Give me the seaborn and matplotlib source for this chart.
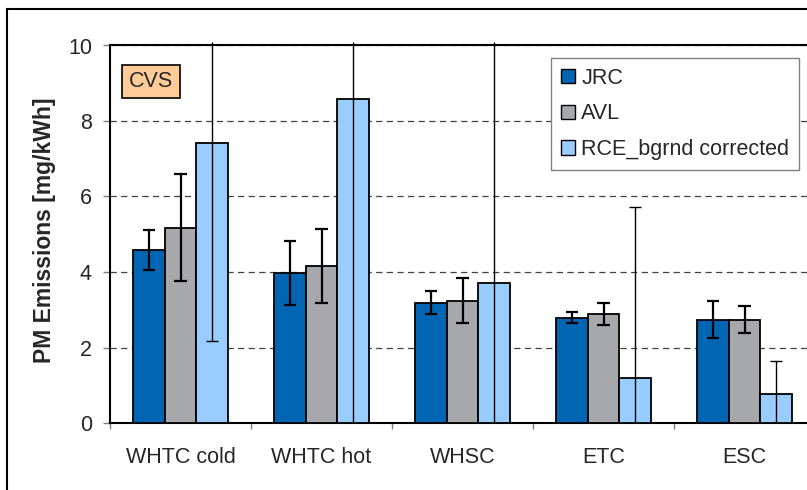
import numpy as np
import pandas as pd
import matplotlib
matplotlib.use("Agg")
import matplotlib.pyplot as plt
from matplotlib.patches import Rectangle, Patch
import seaborn as sns

# Test cycles and measuring labs
cycles = ["WHTC cold", "WHTC hot", "WHSC", "ETC", "ESC"]
labs = ["JRC", "AVL", "RCE_bgrnd corrected"]

# Mean PM emissions [mg/kWh]
jrc = [4.57, 3.98, 3.19, 2.79, 2.74]
avl = [5.17, 4.17, 3.24, 2.89, 2.74]
rce = [7.41, 8.59, 3.70, 1.19, 0.77]

# Error bar half-widths [mg/kWh]
jrc_err = [0.53, 0.85, 0.30, 0.14, 0.48]
avl_err = [1.42, 0.98, 0.59, 0.30, 0.35]
rce_err = [5.25, 8.80, 6.40, 4.53, 0.88]

y_ticks = [0, 2, 4, 6, 8, 10]
colors = ["#0066B3", "#A7A8AC", "#99CCFF"]

sns.set_theme(style="white")
plt.rcParams["font.family"] = ["Liberation Sans", "DejaVu Sans"]

df = pd.DataFrame({
    "cycle": cycles * 3,
    "lab": np.repeat(labs, len(cycles)),
    "value": jrc + avl + rce,
})

W, H = 807, 490
fig = plt.figure(figsize=(W / 100, H / 100), dpi=100)
ax = fig.add_axes([110 / W, 1 - 423 / H, 705 / W, (423 - 45.5) / H])

sns.barplot(data=df, x="cycle", y="value", hue="lab", order=cycles,
            hue_order=labs, palette=colors, width=0.67, saturation=1,
            edgecolor="black", linewidth=1.3, errorbar=None, legend=False,
            ax=ax, zorder=3)

ymax = 10
ax.set_ylim(0, ymax)
ax.set_xlim(-0.5, len(cycles) - 0.5)

# Error bars, clipped at the plot frame like the spreadsheet original
cap = 0.045
for cont, errs, lw in zip(ax.containers, [jrc_err, avl_err, rce_err],
                          [1.6, 1.6, 1.0]):
    for bar, e in zip(cont, errs):
        x = bar.get_x() + bar.get_width() / 2
        v = bar.get_height()
        lo, hi = v - e, v + e
        ax.vlines(x, max(lo, 0), min(hi, ymax + 0.08), color="black",
                  lw=lw, clip_on=False, zorder=5)
        if lo > 0:
            ax.hlines(lo, x - cap, x + cap, color="black", lw=lw, zorder=5)
        if hi < ymax:
            ax.hlines(hi, x - cap, x + cap, color="black", lw=lw, zorder=5)

# Axes styling
ax.set_yticks(y_ticks)
ax.set_yticklabels([str(t) for t in y_ticks])
ax.tick_params(axis="y", length=5, width=1, color="#808080", pad=8,
               labelsize=15.5, left=True)
ax.set_xticks(np.arange(-0.5, len(cycles), 1.0))
ax.set_xticklabels([])
ax.set_xticks(np.arange(len(cycles)), labels=cycles, minor=True)
ax.tick_params(axis="x", which="major", length=4, width=1, color="#808080",
               bottom=True)
ax.tick_params(axis="x", which="minor", length=0, pad=17, labelsize=15.5)
ax.set_xlabel("")
ax.set_ylabel("PM Emissions [mg/kWh]", fontsize=16.5, fontweight="bold")
ax.yaxis.set_label_coords(-0.0766, 0.51)

ax.yaxis.grid(True, linestyle=(0, (5, 3.5)), color="#404040", lw=0.9)
ax.set_axisbelow(True)
for side in ["left", "bottom", "top", "right"]:
    ax.spines[side].set_color("black")
    ax.spines[side].set_linewidth(1.5)

# Legend
handles = [Patch(facecolor=c, edgecolor="black", lw=1.0) for c in colors]
leg = fig.legend(handles, labs, loc="upper left",
                 bbox_to_anchor=(551 / W, 1 - 58 / H), frameon=True,
                 fancybox=False, edgecolor="#808080", facecolor="white",
                 framealpha=1, fontsize=15.5, handlelength=0.65,
                 handleheight=0.65, handletextpad=0.3, labelspacing=0.68,
                 borderpad=0.45, borderaxespad=0)
leg.get_frame().set_linewidth(1.0)

# Sampling system tag
fig.text(151 / W, 1 - 81.5 / H, "CVS", ha="center", va="center",
         fontsize=15.5,
         bbox=dict(boxstyle="square,pad=0.3", fc="#FFCC99", ec="black",
                   lw=1.2))

# Chart-area frame
fig.add_artist(Rectangle((7 / W, -0.2), 1.5, (1 - 9 / H) + 0.2,
                         transform=fig.transFigure, fill=False,
                         ec="black", lw=1.5))

fig.savefig("out.png", dpi=100)
